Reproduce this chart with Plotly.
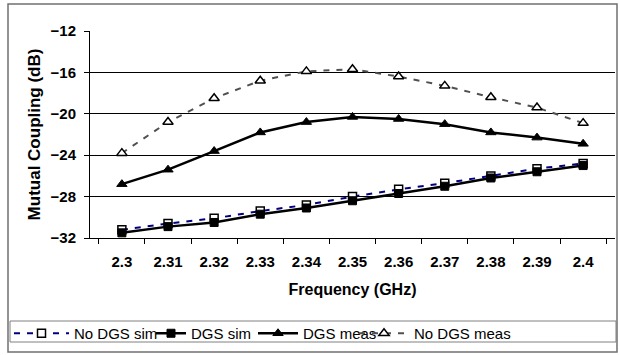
import plotly.graph_objects as go

freq = ["2.3", "2.31", "2.32", "2.33", "2.34", "2.35", "2.36", "2.37", "2.38", "2.39", "2.4"]
no_dgs_sim = [-31.2, -30.6, -30.1, -29.4, -28.8, -28.0, -27.3, -26.7, -26.0, -25.3, -24.8]
dgs_sim = [-31.5, -30.9, -30.5, -29.7, -29.1, -28.4, -27.7, -27.0, -26.2, -25.6, -25.0]
dgs_meas = [-26.8, -25.4, -23.6, -21.8, -20.8, -20.3, -20.5, -21.0, -21.8, -22.3, -22.9]
no_dgs_meas = [-23.8, -20.8, -18.5, -16.8, -15.9, -15.7, -16.4, -17.3, -18.4, -19.4, -20.9]
y_ticks = [-32, -28, -24, -20, -16, -12]

FONT = "Liberation Sans, Arial, sans-serif"

L, R, T, B = 90, 5, 31, 117
W, H = 620, 355
pw, ph = W - L - R, H - T - B

def px(x):
    return (x - L) / pw

def py(y):
    return (H - B - y) / ph

fig = go.Figure()
fig.add_trace(go.Scatter(
    x=freq, y=no_dgs_sim, name="No DGS sim", mode="lines+markers", legend="legend",
    line=dict(color="#000080", width=2, dash="6px,7px"),
    marker=dict(symbol="square", size=8, color="white", line=dict(color="black", width=1.5)),
))
fig.add_trace(go.Scatter(
    x=freq, y=dgs_sim, name="DGS sim", mode="lines+markers", legend="legend2",
    line=dict(color="black", width=2.5),
    marker=dict(symbol="square", size=8, color="black", line=dict(color="black", width=1)),
))
fig.add_trace(go.Scatter(
    x=freq, y=dgs_meas, name="DGS meas", mode="lines+markers", legend="legend3",
    line=dict(color="black", width=2.5),
    marker=dict(symbol="triangle-up", size=9, color="black", line=dict(color="black", width=1)),
))
fig.add_trace(go.Scatter(
    x=freq, y=no_dgs_meas, name="No DGS meas", mode="lines+markers", legend="legend4",
    line=dict(color="#505050", width=2, dash="6px,7px"),
    marker=dict(symbol="triangle-up", size=9, color="white", line=dict(color="black", width=1.5)),
))

def leg(text_x, itemwidth):
    return dict(
        x=px(text_x - itemwidth - 10), y=py(317), xanchor="left", yanchor="top",
        borderwidth=0, bgcolor="rgba(0,0,0,0)", itemwidth=itemwidth,
        font=dict(family=FONT, size=15, color="black"),
    )

fig.update_layout(
    width=W, height=H,
    margin=dict(l=L, r=R, t=T, b=B),
    paper_bgcolor="white", plot_bgcolor="white",
    font=dict(family=FONT, size=15, color="black"),
    showlegend=True,
    legend=leg(74, 55),
    legend2=leg(191, 30),
    legend3=leg(303, 40),
    legend4=leg(414, 50),
    xaxis=dict(
        type="category", tickson="boundaries", ticks="outside", ticklen=5,
        tickcolor="black", showline=True, linecolor="black", linewidth=1,
        showgrid=False, zeroline=False, ticklabelstandoff=10,
        tickfont=dict(family=FONT, size=15, color="black", weight="bold"),
        title=dict(text="<b>Frequency (GHz)</b>", font=dict(family=FONT, size=16), standoff=14),
    ),
    yaxis=dict(
        range=[-32, -12], tickvals=y_ticks, ticks="outside", ticklen=5,
        tickcolor="black", showline=True, linecolor="black", linewidth=1,
        showgrid=True, gridcolor="black", gridwidth=1, zeroline=False,
        ticklabelstandoff=5,
        tickfont=dict(family=FONT, size=15, color="black", weight="bold"),
        title=dict(text="<b>Mutual Coupling (dB)</b>", font=dict(family=FONT, size=17), standoff=5),
    ),
    shapes=[
        dict(type="rect", xref="paper", yref="paper",
             x0=px(8), x1=px(617), y0=py(352), y1=py(4),
             line=dict(color="#707070", width=1.5), fillcolor="rgba(0,0,0,0)", layer="below"),
        dict(type="rect", xref="paper", yref="paper",
             x0=px(10), x1=px(616), y0=py(342), y1=py(321),
             line=dict(color="#808080", width=1), fillcolor="rgba(0,0,0,0)", layer="below"),
    ],
)

fig.write_html("out.html")
